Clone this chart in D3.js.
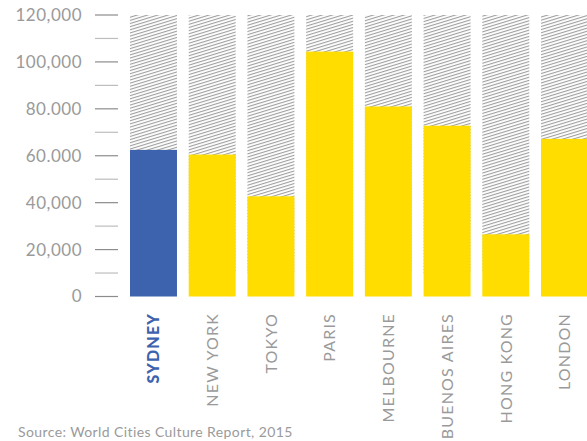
<!DOCTYPE html>
<html><head><meta charset="utf-8">
<script src="https://cdn.jsdelivr.net/npm/d3@7/dist/d3.min.js"></script>
<style>body{margin:0;background:#fff;} svg{display:block;}</style>
</head><body>
<svg id="c" width="587" height="441"></svg>
<script>
const cities = ["SYDNEY","NEW YORK","TOKYO","PARIS","MELBOURNE","BUENOS AIRES","HONG KONG","LONDON"];
const values = [62500, 60500, 42700, 104400, 81000, 72800, 26500, 67200];
const majorTicks = [0, 20000, 40000, 60000, 80000, 100000, 120000];
const tickLabels = ["0", "20,000", "40,000", "60.000", "80.000", "100,000", "120,000"];
const minorTicks = [10000, 30000, 50000, 70000, 90000, 110000];
const hatchRange = [10000, 120000];
const highlight = "SYDNEY";
const sourceText = "Source: World Cities Culture Report, 2015";

const svg = d3.select("#c");
const font = "Lato, 'Open Sans', sans-serif";
const y = d3.scaleLinear().domain([0, 120000]).range([296.5, 15]);
const x = d3.scaleBand().domain(cities).range([130, 588]).paddingInner(0.2).paddingOuter(0);

const defs = svg.append("defs");
const pat = defs.append("pattern").attr("id","hatch").attr("patternUnits","userSpaceOnUse")
  .attr("width", 12).attr("height", 3).attr("patternTransform","rotate(-17)");
pat.append("rect").attr("x",0).attr("y",0).attr("width",12).attr("height",1.1).attr("fill","#9e9e9e");

// y axis ticks
svg.append("g").selectAll("line.minor").data(minorTicks).join("line")
  .attr("x1",95).attr("x2",118).attr("y1",d=>y(d)).attr("y2",d=>y(d))
  .attr("stroke","#bdbdbd").attr("stroke-width",1.2);
svg.append("g").selectAll("line.major").data(majorTicks).join("line")
  .attr("x1",95).attr("x2",118).attr("y1",d=>y(d)).attr("y2",d=>y(d))
  .attr("stroke","#8c8c8c").attr("stroke-width",1.2);
svg.append("g").selectAll("text").data(majorTicks).join("text")
  .attr("x",82).attr("y",d=>y(d)).attr("dy","0.35em").attr("text-anchor","end")
  .attr("font-family",font).attr("font-size",17).attr("letter-spacing",0.5).attr("fill","#9a9a9a")
  .text((d,i)=>tickLabels[i]);

// hatched backgrounds
svg.append("g").selectAll("rect").data(cities).join("rect")
  .attr("x",d=>x(d)).attr("width",x.bandwidth())
  .attr("y",y(hatchRange[1])).attr("height",y(hatchRange[0])-y(hatchRange[1]))
  .attr("fill","url(#hatch)");

// bars
svg.append("g").selectAll("rect").data(cities).join("rect")
  .attr("x",d=>x(d)).attr("width",x.bandwidth())
  .attr("y",(d,i)=>y(values[i])).attr("height",(d,i)=>y(0)-y(values[i]))
  .attr("fill",d=>d===highlight?"#3d63ae":"#ffdd00");

// x labels
svg.append("g").selectAll("text").data(cities).join("text")
  .attr("transform",d=>`translate(${x(d)+x.bandwidth()/2},313) rotate(-90)`)
  .attr("dy","0.36em").attr("text-anchor","end")
  .attr("font-family",font).attr("font-size",16).attr("letter-spacing",1.2)
  .attr("font-weight",d=>d===highlight?"900":"400")
  .attr("fill",d=>d===highlight?"#3d63ae":"#9a9a9a")
  .text(d=>d);

svg.append("text").attr("x",18).attr("y",437).attr("font-family",font)
  .attr("font-size",14).attr("letter-spacing",0.4).attr("fill","#9a9a9a").text(sourceText);
</script>
</body></html>
